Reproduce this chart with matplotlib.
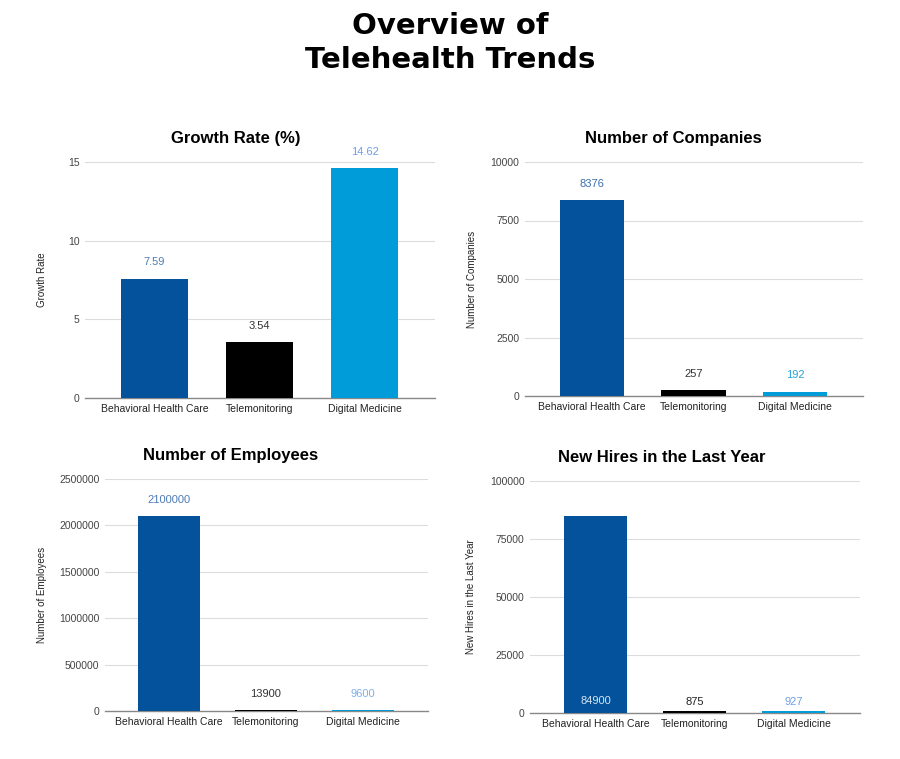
import matplotlib
matplotlib.use("Agg")
from matplotlib import pyplot as plt
import numpy as np

categories = ["Behavioral Health Care", "Telemonitoring", "Digital Medicine"]

growth_rate = [7.59, 3.54, 14.62]
companies = [8376, 257, 192]
employees = [2100000, 13900, 9600]
new_hires = [84900, 875, 927]

growth_labels = ["7.59", "3.54", "14.62"]
company_labels = ["8376", "257", "192"]
employee_labels = ["2100000", "13900", "9600"]
hire_labels = ["84900", "875", "927"]

bar_colors = ["#03529b", "#000000", "#009bd9"]

plt.rcParams["font.family"] = ["Liberation Sans", "DejaVu Sans"]

fig = plt.figure(figsize=(9, 7.59), dpi=100)
W, H = 900, 759


def add_axes_px(left, top, right, bottom):
    return fig.add_axes([left / W, 1 - bottom / H, (right - left) / W, (bottom - top) / H])


def bar_panel(ax, values, labels, label_colors, title, title_x, ylabel, labelpad,
              ymax, yticks, label_offsets, inside=None):
    x = np.arange(len(categories))
    ax.bar(x, values, width=0.64, color=bar_colors, zorder=3)
    ax.set_xlim(-0.66, 2.67)
    ax.set_ylim(0, ymax)
    ax.set_yticks(yticks)
    ax.set_yticklabels([str(t) for t in yticks], fontsize=7.5, color="#444444")
    ax.set_xticks(x)
    ax.set_xticklabels(categories, fontsize=7.5, color="#222222")
    ax.tick_params(length=0, pad=4)
    ax.grid(axis="y", color="#dcdcdc", linewidth=0.8, zorder=0)
    for side in ["top", "left", "right"]:
        ax.spines[side].set_visible(False)
    ax.spines["bottom"].set_color("#888888")
    ax.spines["bottom"].set_linewidth(1.0)
    ax.set_title(title, fontsize=12, fontweight="bold", pad=14, x=title_x)
    ax.set_ylabel(ylabel, fontsize=7, color="#222222", labelpad=labelpad)
    for i, v in enumerate(values):
        if inside is not None and i == inside:
            ax.annotate(labels[i], (x[i], 0), xytext=(0, 5), textcoords="offset points",
                        ha="center", va="bottom", fontsize=8, color=label_colors[i])
        else:
            ax.annotate(labels[i], (x[i], v), xytext=(0, label_offsets), textcoords="offset points",
                        ha="center", va="bottom", fontsize=8, color=label_colors[i])


ax1 = add_axes_px(85, 162, 435, 398)
bar_panel(ax1, growth_rate, growth_labels, ["#4f7bb5", "#333333", "#6d9eeb"],
          "Growth Rate (%)", 0.43, "Growth Rate", 15, 15, [0, 5, 10, 15], 8)

ax2 = add_axes_px(525, 162, 863, 396)
bar_panel(ax2, companies, company_labels, ["#3b6fae", "#333333", "#26a3d9"],
          "Number of Companies", 0.44, "Number of Companies", 10,
          10000, [0, 2500, 5000, 7500, 10000], 8)

ax3 = add_axes_px(105, 479, 428, 711)
bar_panel(ax3, employees, employee_labels, ["#4f7bb5", "#333333", "#7fb0e8"],
          "Number of Employees", 0.39, "Number of Employees", 9, 2500000,
          [0, 500000, 1000000, 1500000, 2000000, 2500000], 8)

ax4 = add_axes_px(530, 481, 860, 713)
bar_panel(ax4, new_hires, hire_labels, ["#d6e6f5", "#222222", "#6d9eeb"],
          "New Hires in the Last Year", 0.40, "New Hires in the Last Year", 10, 100000,
          [0, 25000, 50000, 75000, 100000], 3, inside=0)

fig.text(0.5, 1 - 43 / H, "Overview of\nTelehealth Trends", ha="center", va="center",
         fontsize=21, fontweight="bold", family=["DejaVu Sans"], linespacing=1.3)

fig.savefig("out.png", dpi=100, facecolor="white")
